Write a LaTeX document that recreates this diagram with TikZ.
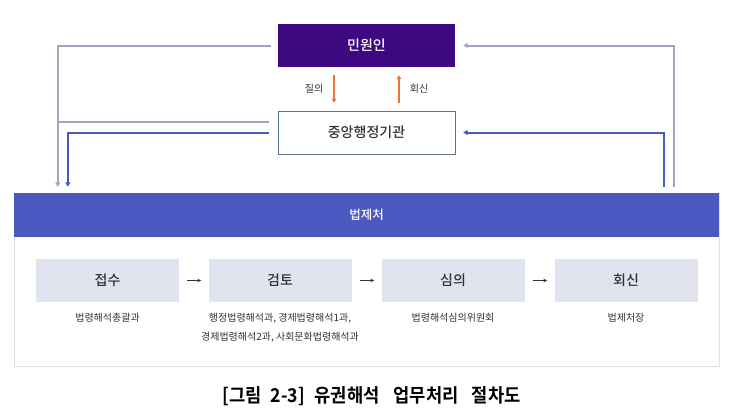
\documentclass[tikz,border=0pt]{standalone}
\usepackage{fontspec}
\setmainfont{Noto Sans CJK KR}
\newfontfamily\krmed{Noto Sans CJK KR Medium}
\newfontfamily\capfont[FakeStretch=0.93]{Noto Sans CJK KR Bold}
\usetikzlibrary{positioning, arrows.meta, calc}

\definecolor{minwonpurple}{RGB}{62,8,128}
\definecolor{beopblue}{RGB}{74,88,192}
\definecolor{stepfill}{RGB}{225,228,238}
\definecolor{panelgray}{RGB}{222,224,230}
\definecolor{boxslate}{RGB}{92,112,145}
\definecolor{linegray}{RGB}{158,166,192}
\definecolor{lineblue}{RGB}{70,90,200}
\definecolor{askorange}{RGB}{238,118,52}
\definecolor{txtdark}{RGB}{51,51,51}

\begin{document}
\begin{tikzpicture}[x=1pt, y=-1pt,
    topbox/.style={minimum width=177pt, minimum height=43pt, inner sep=0pt,
                   font=\krmed\fontsize{14}{16}\selectfont},
    stepbox/.style={fill=stepfill, minimum width=143pt, minimum height=43pt,
                    inner sep=0pt, font=\krmed\fontsize{14}{16}\selectfont, text=txtdark},
    sublbl/.style={font=\fontsize{10}{19}\selectfont, text=txtdark, align=center,
                   inner sep=0pt},
    asklbl/.style={font=\fontsize{10}{12}\selectfont, text=txtdark, inner sep=0pt},
    garr/.style={-{Triangle[length=4.5pt, width=5pt]}, line width=2pt, color=linegray},
    barr/.style={-{Triangle[length=4.5pt, width=5pt]}, line width=2pt, color=lineblue},
    oarr/.style={-{Triangle[length=4pt, width=4.5pt]}, line width=1.6pt, color=askorange,
                 shorten >=8pt, shorten <=8pt},
    sarr/.style={-{Stealth[length=4pt, width=3.5pt]}, semithick, color=txtdark,
                 shorten >=7pt, shorten <=8pt},
]
\useasboundingbox (0,0) rectangle (732,415);

% Positions
\pgfmathsetmacro{\xS}{107.5}
\pgfmathsetmacro{\xG}{280}
\pgfmathsetmacro{\xR}{453}
\pgfmathsetmacro{\xH}{626}
\pgfmathsetmacro{\yS}{280.5}

% ===== TOP: 민원인 / 중앙행정기관 =====
\node[topbox, fill=minwonpurple, text=white] (minwon) at (366.5, 45.5) {민원인};
\node[topbox, draw=boxslate, fill=white, text=txtdark] (jungang) at (366.5, 132.5) {중앙행정기관};

% 질의 / 회신
\draw[oarr] ([xshift=-32.5pt]minwon.south) -- ([xshift=-32.5pt]jungang.north)
    node[asklbl, midway, left=10pt] (ask) {질의};
\draw[oarr] ([xshift=32.5pt]jungang.north) -- ([xshift=32.5pt]minwon.south)
    node[asklbl, midway, right=10pt] (reply) {회신};

% ===== 법제처 PANEL =====
\draw[panelgray, fill=white] (14,193) rectangle (719,366);
\node[fill=beopblue, minimum width=705pt, minimum height=44pt, inner sep=0pt,
      font=\krmed\fontsize{12.5}{14}\selectfont, text=white] (beop) at (366.5, 215) {법제처};

% Drop / rise points on the bar
\coordinate (dropG) at ([xshift=44pt, yshift=6pt]beop.north west);
\coordinate (dropB) at ([xshift=54pt, yshift=6pt]beop.north west);
\coordinate (riseB) at ([xshift=-55pt, yshift=6pt]beop.north east);
\coordinate (riseG) at ([xshift=-45pt, yshift=6pt]beop.north east);
\coordinate (jungangG) at ([xshift=-9pt, yshift=10.5pt]jungang.west);

% ===== CONNECTORS =====
\draw[garr] ([xshift=-7pt]minwon.west) -| (dropG);
\draw[linegray, line width=2pt] (jungangG) -- (jungangG -| dropG);
\draw[barr] ([xshift=-9pt]jungang.west) -| (dropB);
\draw[garr] (riseG) |- ([xshift=8pt]minwon.east);
\draw[barr] (riseB) |- ([xshift=8pt]jungang.east);

% ===== STEPS =====
\node[stepbox] (jeopsu) at (\xS, \yS) {접수};
\node[stepbox] (geomto) at (\xG, \yS) {검토};
\node[stepbox] (simui) at (\xR, \yS) {심의};
\node[stepbox] (hoesin) at (\xH, \yS) {회신};

\draw[sarr] (jeopsu) -- (geomto);
\draw[sarr] (geomto) -- (simui);
\draw[sarr] (simui) -- (hoesin);

\node[sublbl, below=11pt of jeopsu] (jeopsuT) {법령해석총괄과};
\node[sublbl, below=11pt of geomto] (geomtoT) {행정법령해석과, 경제법령해석1과,\\경제법령해석2과, 사회문화법령해석과};
\node[sublbl, below=11pt of simui] (simuiT) {법령해석심의위원회};
\node[sublbl, below=11pt of hoesin] (hoesinT) {법제처장};

% ===== CAPTION =====
\node[font=\capfont\fontsize{19}{24}\selectfont] (caption) at (371.5, 396)
    {[그림\hspace{9pt}2-3]\hspace{10pt}유권해석\hspace{14pt}업무처리\hspace{13pt}절차도};

\end{tikzpicture}
\end{document}
